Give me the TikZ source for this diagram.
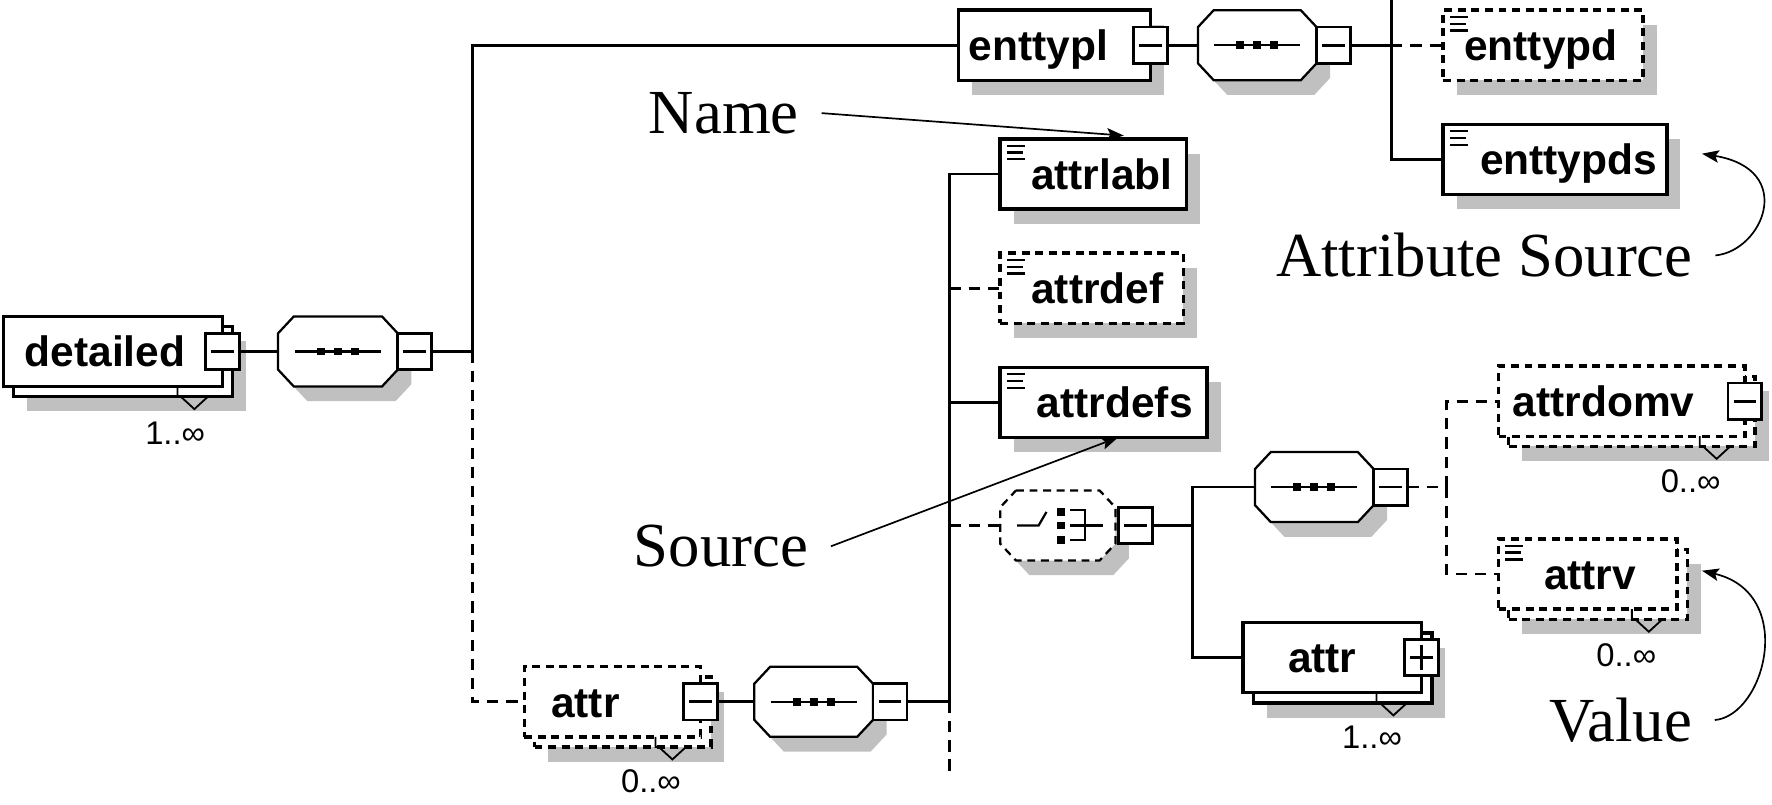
\documentclass[tikz,border=0pt]{standalone}
\usepackage{fontspec}
\setmainfont{Liberation Serif}
\setsansfont{Liberation Sans}
\usetikzlibrary{shadows,arrows.meta}
\definecolor{shade}{RGB}{192,192,192}

% octagon with cut corners for the compositor symbols
\newdimen\octxa \newdimen\octya \newdimen\octxb \newdimen\octyb
\pgfdeclareshape{octagon box}{
  \inheritsavedanchors[from=rectangle]
  \inheritanchorborder[from=rectangle]
  \inheritanchor[from=rectangle]{center}
  \inheritanchor[from=rectangle]{north}
  \inheritanchor[from=rectangle]{south}
  \inheritanchor[from=rectangle]{east}
  \inheritanchor[from=rectangle]{west}
  \inheritanchor[from=rectangle]{north east}
  \inheritanchor[from=rectangle]{north west}
  \inheritanchor[from=rectangle]{south east}
  \inheritanchor[from=rectangle]{south west}
  \backgroundpath{
    \pgfextractx{\octxa}{\southwest}\pgfextracty{\octya}{\southwest}
    \pgfextractx{\octxb}{\northeast}\pgfextracty{\octyb}{\northeast}
    \pgfpathmoveto{\pgfqpoint{\dimexpr\octxa+14pt\relax}{\octyb}}
    \pgfpathlineto{\pgfqpoint{\dimexpr\octxb-14pt\relax}{\octyb}}
    \pgfpathlineto{\pgfqpoint{\octxb}{\dimexpr\octyb-15pt\relax}}
    \pgfpathlineto{\pgfqpoint{\octxb}{\dimexpr\octya+15pt\relax}}
    \pgfpathlineto{\pgfqpoint{\dimexpr\octxb-14pt\relax}{\octya}}
    \pgfpathlineto{\pgfqpoint{\dimexpr\octxa+14pt\relax}{\octya}}
    \pgfpathlineto{\pgfqpoint{\octxa}{\dimexpr\octya+15pt\relax}}
    \pgfpathlineto{\pgfqpoint{\octxa}{\dimexpr\octyb-15pt\relax}}
    \pgfpathclose
  }
}

\begin{document}
\begin{tikzpicture}
        [x=1pt, y=-1pt,
        elem/.style={rectangle, draw, fill=white, line width=3pt, inner sep=0pt, outer sep=0pt, minimum height=62pt, font=\sffamily\bfseries\fontsize{37.6}{40}\selectfont, text height=27pt, text depth=0pt},
        elemOpt/.style={elem, dash pattern=on 7pt off 5pt},
        shadowed/.style={drop shadow={shadow xshift=12pt, shadow yshift=-13pt, fill=shade, opacity=1}},
        simple/.style={path picture={\draw[solid, draw=black, line width=2pt]
            ([shift={(6pt,-6pt)}]path picture bounding box.north west) -- +(16pt,0pt)
            ([shift={(6pt,-12pt)}]path picture bounding box.north west) -- +(14pt,0pt)
            ([shift={(6pt,-18pt)}]path picture bounding box.north west) -- +(16pt,0pt);}},
        minus/.style={rectangle, draw, solid, fill=white, line width=2.4pt, minimum width=30pt, minimum height=32pt, inner sep=0pt, outer sep=0pt,
            path picture={\draw[solid, draw=black, line width=2.4pt] ([xshift=5pt]path picture bounding box.west) -- ([xshift=-5pt]path picture bounding box.east);}},
        plus/.style={minus, append after command={(\tikzlastnode.north) ++(0,5) edge[solid, line width=2.4pt] ([yshift=5pt]\tikzlastnode.south)}},
        oct/.style={octagon box, draw, fill=white, line width=2pt, minimum height=62pt, inner sep=0pt, outer sep=0pt, shadowed},
        seq/.style={oct, path picture={
            \begin{scope}[shift={(path picture bounding box.center)}, solid, line width=2pt, draw=black, fill=black]
              \draw (-38,0) -- (38,0);
              \foreach \i in {-15,0,15} \fill (\i-3.5,-3.5) rectangle (\i+3.5,3.5);
            \end{scope}}},
        choice/.style={oct, dash pattern=on 7pt off 5pt, path picture={
            \begin{scope}[shift={(path picture bounding box.center)}, solid, line width=2pt, draw=black, fill=black]
              \draw (-36,0) -- (-17,0) -- (-10,-12);
              \foreach \j in {-12,0,13} \fill (-1,\j-3.5) rectangle (6,\j+3.5);
              \draw (11,-14) -- (24,-14) -- (24,13) -- (11,13);
              \draw (11,0) -- (40,0);
            \end{scope}}},
        occ/.style={font=\sffamily\fontsize{29}{30}\selectfont, inner sep=0pt},
        notch/.style={line width=1.6pt, solid},
        conn/.style={line width=2.4pt},
        connOpt/.style={dash pattern=on 10pt off 7pt},
        note/.style={font=\rmfamily\fontsize{55.5}{60}\selectfont, inner xsep=20pt, inner ysep=0pt},
        notearrow/.style={line width=1.5pt, -{Stealth[length=15pt, width=11pt, inset=3pt]}}]
        \useasboundingbox (0,0) rectangle (1568,712);

        % root element
        \node[elem, shadowed, minimum width=194pt] (detailedBack) at (109,320) {};
        \node[elem, minimum width=194pt] (detailed) at (100,311) {detailed\hspace*{14pt}};
        \node[minus] (detailedM) at (detailed.east) {};
        \node[occ] (detailedOcc) at (155,383) {1..∞};
        \node[seq, minimum width=106pt] (seqA) at (299,311) {};
        \node[minus, anchor=west] (seqAM) at (seqA.east) {};

        % entity type branch
        \node[elem, shadowed, minimum width=170pt] (enttypl) at (933,40) {enttypl\hspace*{28pt}};
        \node[minus] (enttyplM) at (enttypl.east) {};
        \node[seq, minimum width=105pt] (seqB) at (1112.5,40) {};
        \node[minus, anchor=west] (seqBM) at (seqB.east) {};
        \node[elemOpt, simple, shadowed, minimum width=177pt] (enttypd) at (1365.5,40) {enttypd\hspace*{4pt}};
        \node[elem, simple, shadowed, minimum width=198pt] (enttypds) at (1376,141) {\hspace*{24pt}enttypds};

        % attribute branch
        \node[elemOpt, shadowed, minimum width=156pt] (attrlBack) at (551,630) {};
        \node[elemOpt, minimum width=156pt] (attrl) at (542,621) {attr\hspace*{48pt}};
        \node[minus] (attrlM) at (attrl.east) {};
        \node[occ] (attrlOcc) at (576,691) {0..∞};
        \node[seq, minimum width=105pt] (seqD) at (720,621) {};
        \node[minus, anchor=west] (seqDM) at (seqD.east) {};

        \node[elem, simple, shadowed, minimum width=165pt] (attrlabl) at (967.5,154) {\hspace*{15pt}attrlabl};
        \node[elemOpt, simple, shadowed, minimum width=162pt] (attrdef) at (966,255) {\hspace*{10pt}attrdef};
        \node[elem, simple, shadowed, minimum width=183pt] (attrdefs) at (976.5,356) {\hspace*{20pt}attrdefs};
        \node[choice, minimum width=102pt] (choiceA) at (936,465) {};
        \node[minus, anchor=west] (choiceAM) at ([xshift=3pt]choiceA.east) {};

        \node[seq, minimum width=105pt] (seqC) at (1163,431) {};
        \node[minus, anchor=west] (seqCM) at (seqC.east) {};
        \node[elem, shadowed, minimum width=158pt] (attrrBack) at (1188,591) {};
        \node[elem, minimum width=158pt] (attrr) at (1179,582) {attr\hspace*{18pt}};
        \node[plus] (attrrP) at (attrr.east) {};
        \node[occ] (attrrOcc) at (1214,652) {1..∞};

        \node[elemOpt, shadowed, minimum width=218pt] (attrdomvBack) at (1444,364) {};
        \node[elemOpt, minimum width=218pt] (attrdomv) at (1435,355) {attrdomv\hspace*{32pt}};
        \node[minus] (attrdomvM) at (attrdomv.east) {};
        \node[occ] (attrdomvOcc) at (1496,426) {0..∞};
        \node[elemOpt, shadowed, minimum width=158pt] (attrvBack) at (1414,517) {};
        \node[elemOpt, simple, minimum width=158pt] (attrv) at (1405,508) {\hspace*{4pt}attrv};
        \node[occ] (attrvOcc) at (1439,580) {0..∞};

        % notches under repeated elements
        \draw[notch] ([xshift=-49pt,yshift=9pt]detailedBack.south east) -- ++(0,9) -- ++(3,0) -- ++(12,11) -- ++(12,-11);
        \draw[notch] ([xshift=-49pt,yshift=9pt]attrlBack.south east) -- ++(0,9) -- ++(3,0) -- ++(12,11) -- ++(12,-11);
        \draw[notch] ([xshift=-49pt,yshift=9pt]attrrBack.south east) -- ++(0,9) -- ++(3,0) -- ++(12,11) -- ++(12,-11);
        \draw[notch] ([xshift=-49pt,yshift=9pt]attrdomvBack.south east) -- ++(0,9) -- ++(3,0) -- ++(12,11) -- ++(12,-11);
        \draw[notch] ([xshift=-49pt,yshift=9pt]attrvBack.south east) -- ++(0,9) -- ++(3,0) -- ++(12,11) -- ++(12,-11);

        % connectors
        \coordinate (busA) at (418,311);
        \coordinate (busB) at (840,621);
        \coordinate (busBEnd) at (840,688);
        \coordinate (busC) at (1231,40);
        \coordinate (busCTop) at (1231,0);
        \coordinate (busD) at (1055,465);
        \coordinate (busE) at (1280,431);

        \draw[conn] (detailedM) -- (seqA);
        \draw[conn] (seqAM) -- (busA);
        \draw[conn] (busA) |- (enttypl);
        \draw[conn, connOpt] (busA) |- (attrl);

        \draw[conn] (enttyplM) -- (seqB);
        \draw[conn] (seqBM) -- (busC);
        \draw[conn, connOpt] (busC) -- (enttypd);
        \draw[conn] (busCTop) |- (enttypds);

        \draw[conn] (attrlM) -- (seqD);
        \draw[conn] (seqDM) -- (busB);
        \draw[conn] (busB) |- (attrlabl);
        \draw[conn, connOpt] (busB |- attrdef) -- (attrdef);
        \draw[conn] (busB |- attrdefs) -- (attrdefs);
        \draw[conn, connOpt] (busB |- choiceA) -- (choiceA);
        \draw[conn, connOpt] (busB) -- (busBEnd);

        \draw[conn] (choiceAM) -- (busD);
        \draw[conn] (busD) |- (seqC);
        \draw[conn] (busD) |- (attrr);
        \draw[conn, connOpt] (seqCM) -- (busE);
        \draw[conn, connOpt] (busE) |- (attrdomv);
        \draw[conn, connOpt] (busE) |- (attrv);

        % annotations
        \node[note, anchor=base] (name) at (640.5,118) {Name};
        \node[note, anchor=base] (source) at (638,501.5) {Source};
        \node[note, anchor=base] (attsrc) at (1313.5,245) {Attribute Source};
        \node[note, anchor=base] (value) at (1434,656) {Value};
        \coordinate (attsrcTip) at (1506,136);
        \coordinate (valueTip) at (1506,505);

        \draw[notearrow] (name.east) -- ([xshift=27pt,yshift=3pt]attrlabl.north);
        \draw[notearrow] (source.east) -- ([xshift=13pt]attrdefs.south);
        \draw[notearrow] (attsrc.east) .. controls (1560,222) and (1590,150) .. (attsrcTip);
        \draw[notearrow] (value.east) .. controls (1562,633) and (1590,525) .. (valueTip);

\end{tikzpicture}
\end{document}
